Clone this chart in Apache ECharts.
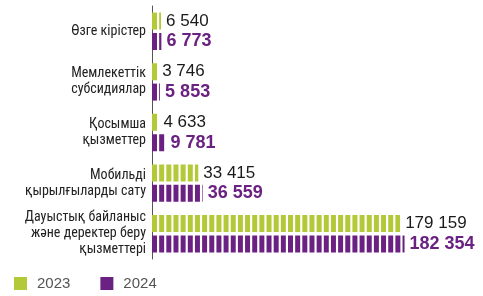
<!DOCTYPE html>
<html>
<head>
<meta charset="utf-8" />
<title>Табыс құрылымы</title>
<style>
    html,body{margin:0;padding:0;background:#fff;}
    #chart{width:483px;height:296px;}
</style>
</head>
<body>
<div id="chart"></div>
<script src="https://cdn.jsdelivr.net/npm/echarts@6/dist/echarts.min.js"></script>
<script>
    var categories = [
        'Өзге кірістер',
        'Мемлекеттік\nсубсидиялар',
        'Қосымша\nқызметтер',
        'Мобильді\nқырылғыларды сату',
        'Дауыстық байланыс\nжәне деректер беру\nқызметтері'
    ];
    var years = ['2023', '2024'];
    var values2023 = [6540, 3746, 4633, 33415, 179159];
    var values2024 = [6773, 5853, 9781, 36559, 182354];
    var colors = ['#b3c937', '#6a2181'];
    var axisMax = 200000;

    // 179 159 -> thousands split with a space
    function fmt(p) {
        return String(p.value).replace(/\B(?=(\d{3})+(?!\d))/g, ' ');
    }

    // striped bars
    function stripeSeries(name, data, color) {
        return {
            name: name,
            type: 'pictorialBar',
            data: data,
            symbol: 'rect',
            symbolRepeat: true,
            symbolClip: true,
            symbolBoundingData: axisMax,
            symbolSize: [5, '100%'],
            symbolMargin: 1.1,
            barWidth: 17,
            barGap: '20%',
            itemStyle: {color: color},
            z: 3
        };
    }

    // invisible plain bars, only to hold the value labels at the real bar end
    function labelSeries(name, data, labelStyle) {
        return {
            name: name,
            type: 'bar',
            data: data,
            barWidth: 17,
            barGap: '20%',
            itemStyle: {color: 'rgba(0,0,0,0)'},
            label: Object.assign({
                show: true,
                position: 'right',
                distance: 5,
                fontFamily: 'Liberation Sans',
                formatter: fmt
            }, labelStyle),
            z: 4
        };
    }

    var chart = echarts.init(document.getElementById('chart'));
    chart.setOption({
        animation: false,
        color: colors,
        grid: {left: 152, top: 6, height: 253, width: 277},
        legend: {
            left: 9,
            top: 271,
            itemWidth: 13,
            itemHeight: 13,
            itemGap: 30,
            data: [{name: years[0], icon: 'rect'}, {name: years[1], icon: 'rect'}],
            textStyle: {
                fontFamily: 'Liberation Sans',
                fontSize: 15,
                color: '#555',
                padding: [0, 0, 0, 5]
            }
        },
        xAxis: {
            type: 'value',
            min: 0,
            max: axisMax,
            show: false
        },
        yAxis: {
            type: 'category',
            inverse: true,
            data: categories,
            axisLine: {show: true, lineStyle: {color: '#555', width: 1}},
            axisTick: {show: false},
            axisLabel: {
                margin: 6,
                fontFamily: 'Roboto Condensed',
                fontSize: 14,
                lineHeight: 16,
                color: '#222'
            }
        },
        series: [
            stripeSeries(years[0], values2023, colors[0]),
            stripeSeries(years[1], values2024, colors[1]),
            labelSeries(years[0], values2023, {fontSize: 17, color: '#1a1a1a'}),
            labelSeries(years[1], values2024, {fontSize: 18, fontWeight: 'bold', color: colors[1]})
        ]
    });
</script>
</body>
</html>
